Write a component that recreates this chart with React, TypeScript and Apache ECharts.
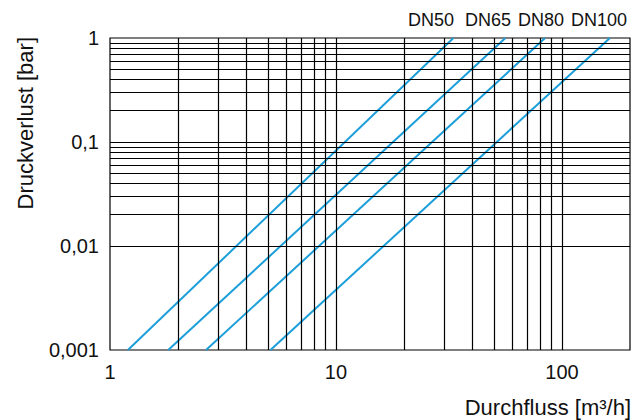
import React, { useEffect, useRef } from "react";
import * as echarts from "echarts";

// Categories (pipe sizes)
const dnLabels = ["DN50", "DN65", "DN80", "DN100"];
// Flow [m³/h] at which each curve reaches 0.001 bar and 1 bar
const flowAtMinLoss = [1.2, 1.81, 2.66, 5.13];
const flowAtMaxLoss = [33.1, 56.2, 84.2, 163];
const lossEnds = [0.001, 1];

// Axis ticks and labels
const xMajorTicks = [1, 10, 100];
const xTickLabels = ["1", "10", "100"];
const yMajorTicks = [0.001, 0.01, 0.1, 1];
const yTickLabels = ["0,001", "0,01", "0,1", "1"];
const xGridValues = [2, 3, 4, 5, 6, 7, 8, 9, 10, 20, 30, 40, 50, 60, 70, 80, 90, 100];
const yGridValues = [
  0.002, 0.003, 0.004, 0.005, 0.006, 0.007, 0.008, 0.009, 0.01,
  0.02, 0.03, 0.04, 0.05, 0.06, 0.07, 0.08, 0.09, 0.1,
  0.2, 0.3, 0.4, 0.5, 0.6, 0.7, 0.8, 0.9,
];
const xRange = [1, 200];
const yRange = [0.001, 1];

const FONT = "'Liberation Sans', Arial, Helvetica, sans-serif";
const LINE_COLOR = "#1b9ed9";

function pickLabel(v: number, ticks: number[], labels: string[]) {
  for (let i = 0; i < ticks.length; i++) {
    if (Math.abs(Math.log10(v) - Math.log10(ticks[i])) < 1e-6) return labels[i];
  }
  return "";
}

export default function App() {
  const ref = useRef<HTMLDivElement>(null);
  useEffect(() => {
    document.body.style.margin = "0";
    if (!ref.current) return;
    const chart = echarts.init(ref.current, null, { renderer: "svg" });

    const gridSeries = {
      type: "line",
      data: [],
      silent: true,
      z: 1,
      markLine: {
        silent: true,
        symbol: ["none", "none"],
        label: { show: false },
        lineStyle: { color: "#000", width: 1.2, type: "solid" },
        emphasis: { disabled: true },
        data: [
          ...xGridValues.map((v) => ({ xAxis: v })),
          ...yGridValues.map((v) => ({ yAxis: v })),
        ],
      },
    };

    const curveSeries = dnLabels.map((name, i) => ({
      type: "line",
      name,
      z: 3,
      symbol: "none",
      lineStyle: { color: LINE_COLOR, width: 2 },
      data: [
        [flowAtMinLoss[i], lossEnds[0]],
        [flowAtMaxLoss[i], lossEnds[1]],
      ],
    }));

    const labelX = [431, 488, 541, 599];

    chart.setOption({
      animation: false,
      grid: {
        left: 110,
        top: 38,
        width: 520,
        height: 312,
        show: true,
        borderColor: "#000",
        borderWidth: 1.2,
        backgroundColor: "transparent",
      },
      xAxis: {
        type: "log",
        logBase: 10,
        min: xRange[0],
        max: xRange[1],
        axisLine: { show: false },
        axisTick: { show: false },
        splitLine: { show: false },
        axisLabel: {
          margin: 12,
          color: "#111",
          fontSize: 20,
          fontFamily: FONT,
          showMaxLabel: false,
          formatter: (v: number) => pickLabel(v, xMajorTicks, xTickLabels),
        },
      },
      yAxis: {
        type: "log",
        logBase: 10,
        min: yRange[0],
        max: yRange[1],
        axisLine: { show: false },
        axisTick: { show: false },
        splitLine: { show: false },
        axisLabel: {
          margin: 11,
          color: "#111",
          fontSize: 20,
          fontFamily: FONT,
          formatter: (v: number) => pickLabel(v, yMajorTicks, yTickLabels),
        },
      },
      graphic: [
        {
          type: "text",
          x: 631,
          y: 407,
          style: {
            text: "Durchfluss [m³/h]",
            fill: "#111",
            font: `22px ${FONT}`,
            align: "right",
            verticalAlign: "middle",
          },
        },
        {
          type: "text",
          x: 25,
          y: 37,
          rotation: Math.PI / 2,
          style: {
            text: "Druckverlust [bar]",
            fill: "#111",
            font: `22px ${FONT}`,
            align: "right",
            verticalAlign: "middle",
          },
        },
        ...dnLabels.map((t, i) => ({
          type: "text",
          x: labelX[i],
          y: 20,
          style: {
            text: t,
            fill: "#111",
            font: `18px ${FONT}`,
            align: "center",
            verticalAlign: "middle",
          },
        })),
      ],
      series: [gridSeries, ...curveSeries],
    });

    return () => chart.dispose();
  }, []);
  return <div ref={ref} style={{ width: 643, height: 420 }} />;
}
